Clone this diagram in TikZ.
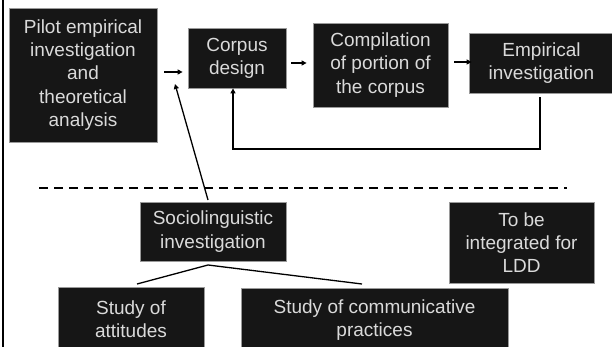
\documentclass[tikz,border=0pt]{standalone}
\usepackage{fontspec}
\setmainfont{Liberation Sans}
\usetikzlibrary{arrows.meta}
\definecolor{boxfill}{HTML}{161616}
\definecolor{boxline}{HTML}{9A9A9A}
\definecolor{boxtext}{HTML}{DADADA}
\begin{document}
\begin{tikzpicture}[x=1pt,y=-1pt,
  blk/.style={draw=boxline, line width=0.8pt, fill=boxfill, text=boxtext, align=center,
    inner sep=0pt, font=\fontsize{19}{23.3}\selectfont},
  arr/.style={line width=1.3pt, -{Triangle[length=5pt,width=5pt]}},
  ln/.style={line width=1.3pt}]
\useasboundingbox (0,0) rectangle (612,347);
\fill[white] (0,0) rectangle (612,347);
\draw[line width=2pt] (3,0) -- (3,347);
\node[blk, minimum width=148pt, minimum height=134pt] (pilot) at (83,75) {Pilot empirical\\investigation\\and\\theoretical\\analysis};
\node[blk, minimum width=98pt, minimum height=60pt] (corpus) at (237,58) {Corpus\\design};
\node[blk, minimum width=135pt, minimum height=84pt] (comp) at (380.5,65) {Compilation\\of portion of\\the corpus};
\node[blk, minimum width=145pt, minimum height=60pt] (emp) at (541.5,63) {Empirical\\investigation};
\node[blk, minimum width=146pt, minimum height=59pt] (socio) at (213,231.5) {Sociolinguistic\\investigation};
\node[blk, minimum width=145pt, minimum height=81pt] (ldd) at (521.5,242.5) {To be\\integrated for\\LDD};
\node[blk, minimum width=146pt, minimum height=64pt] (att) at (131,319) {Study of\\attitudes};
\node[blk, minimum width=267pt, minimum height=64pt] (comm) at (374.5,320) {Study of communicative\\practices};
% arrows
\draw[arr, shorten <=7pt, shorten >=5pt] (pilot.east |- 0,72) -- (corpus.west |- 0,72);
\draw[arr, shorten <=5pt, shorten >=6pt] (corpus.east |- 0,63) -- (comp.west |- 0,63);
\draw[arr, shorten <=6pt, shorten >=-3pt] (comp.east |- 0,62) -- (emp.west |- 0,62);
% feedback
\coordinate (fb1) at (540,149);
\coordinate (fb2) at (233,149);
\draw[arr, shorten <=4pt] (emp.south -| fb1) -- (fb1) -- (fb2) -- (corpus.south -| fb2);
% socio arrow
\coordinate (soctop) at (208,200);
\coordinate (soctip) at (175,84);
\draw[arr] (soctop) -- (soctip);
% dashed separator
\coordinate (d1) at (39,188);
\coordinate (d2) at (567,188);
\draw[line width=1.5pt, dash pattern=on 9pt off 6pt] (d1) -- (d2);
% tree lines
\coordinate (sb) at (208,265);
\coordinate (ta) at (137,284);
\coordinate (tc) at (362,284);
\draw[ln] (ta) -- (sb) -- (tc);
\end{tikzpicture}
\end{document}
